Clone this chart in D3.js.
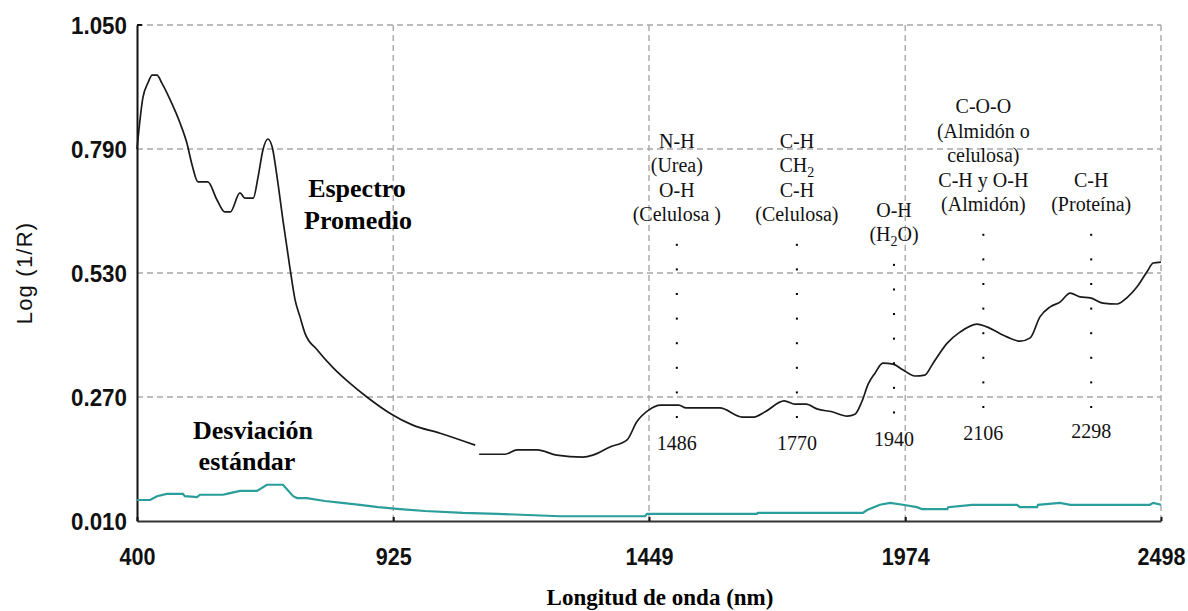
<!DOCTYPE html>
<html>
<head>
<meta charset="utf-8">
<script src="https://cdn.jsdelivr.net/npm/d3@7"></script>
<style>
  html, body { margin: 0; padding: 0; background: #fff; }
  svg { display: block; }
  .tick-label { font-family: "Liberation Sans", Arial, sans-serif; font-weight: bold; font-size: 23px; fill: #111; }
  .note { font-family: "Liberation Serif", "Times New Roman", serif; font-size: 20px; fill: #111; }
  .big { font-family: "Liberation Serif", "Times New Roman", serif; font-size: 26px; font-weight: bold; fill: #000; }
</style>
</head>
<body>
<svg id="chart" width="1188" height="611"></svg>
<script>
'use strict';

// tick values of both axes
var xTicks = [400, 925, 1449, 1974, 2498];
var yTicks = [0.010, 0.270, 0.530, 0.790, 1.050];

// mean spectrum (nm, log 1/R), null marks the break in the trace
var meanWave = [400, 412, 423, 431, 441, 451, 468, 488, 502, 513, 525, 545, 564, 580, 591, 611, 621, 638, 648, 658, 668, 677, 687, 699, 713, 724, 734, 744, 769, 802, 836, 871, 918, 965, 1021, 1093,
  1097,
  1101, 1154, 1179, 1220, 1260, 1314, 1334, 1369, 1404, 1424, 1449, 1472, 1510, 1525, 1594, 1640, 1664, 1687, 1726, 1748, 1771, 1793, 1824, 1855, 1871, 1885, 1898, 1912, 1928, 1949, 1969, 1994, 2014, 2031, 2060, 2086, 2121, 2141, 2182, 2209, 2230, 2250, 2271, 2291, 2312, 2332, 2353, 2379, 2408, 2428, 2449, 2469, 2482, 2498];
var meanValue = [0.790, 0.897, 0.930, 0.945, 0.945, 0.928, 0.893, 0.845, 0.803, 0.756, 0.721, 0.721, 0.683, 0.658, 0.658, 0.698, 0.687, 0.687, 0.731, 0.788, 0.811, 0.794, 0.731, 0.641, 0.543, 0.473, 0.438, 0.404, 0.369, 0.331, 0.299, 0.270, 0.236, 0.211, 0.194, 0.169,
  null,
  0.150, 0.150, 0.159, 0.159, 0.148, 0.144, 0.148, 0.165, 0.180, 0.218, 0.243, 0.253, 0.253, 0.247, 0.247, 0.228, 0.228, 0.239, 0.262, 0.255, 0.255, 0.245, 0.239, 0.230, 0.234, 0.260, 0.297, 0.320, 0.341, 0.339, 0.327, 0.314, 0.316, 0.341, 0.383, 0.406, 0.423, 0.417, 0.396, 0.387, 0.394, 0.438, 0.459, 0.469, 0.488, 0.480, 0.478, 0.467, 0.465, 0.478, 0.501, 0.532, 0.551, 0.553];

// standard deviation (nm, log 1/R)
var sdWave = [400, 427, 441, 461, 494, 498, 523, 529, 576, 584, 611, 646, 666, 699, 720, 728, 748, 785, 820, 857, 894, 939, 990, 1068, 1138, 1267, 1441, 1445, 1670, 1672, 1887, 1896, 1922, 1943, 1969, 1998, 2008, 2060, 2062, 2111, 2203, 2209, 2244, 2246, 2291, 2312, 2475, 2482, 2498];
var sdValue = [0.054, 0.054, 0.062, 0.067, 0.067, 0.062, 0.060, 0.065, 0.065, 0.067, 0.073, 0.073, 0.086, 0.086, 0.062, 0.058, 0.058, 0.052, 0.048, 0.044, 0.039, 0.035, 0.031, 0.027, 0.025, 0.020, 0.020, 0.025, 0.025, 0.027, 0.027, 0.033, 0.044, 0.048, 0.044, 0.039, 0.035, 0.035, 0.039, 0.044, 0.044, 0.039, 0.039, 0.044, 0.048, 0.044, 0.044, 0.048, 0.044];

// absorption bands: label, anchor wavelength of the note, text lines, value of last text line, dot count, value of number label
var bandLabels = ['1486', '1770', '1940', '2106', '2298'];
var bandAnchor = [1506, 1752, 1951, 2134, 2355];
var bandNotes = [
  ['N-H', '(Urea)', 'O-H', '(Celulosa )'],
  ['C-H', 'CH_2', 'C-H', '(Celulosa)'],
  ['O-H', '(H_2O)'],
  ['C-O-O', '(Almidón o', 'celulosa)', 'C-H y O-H', '(Almidón)'],
  ['C-H', '(Proteína)']
];
var bandNoteBottom = [0.652, 0.652, 0.610, 0.673, 0.673];
var bandDots = [8, 8, 7, 8, 8];
var bandNumberValue = [0.159, 0.159, 0.167, 0.180, 0.184];

var svg = d3.select('#chart');
var x = d3.scaleLinear().domain([400, 2498]).range([137, 1161]);
var y = d3.scaleLinear().domain([0.010, 1.050]).range([521, 25]);

// narrow bold look of the original tick font
function squeeze(sel) {
  sel.each(function () {
    var s = this.textContent;
    var n = s.replace(/[^0-9]/g, '').length;
    var p = s.length - n;
    d3.select(this).attr('textLength', 12 * n + 8 * p).attr('lengthAdjust', 'spacingAndGlyphs');
  });
}

// grid
var grid = svg.append('g').attr('stroke', '#a8a8a8').attr('stroke-width', 1.4).attr('stroke-dasharray', '6,4');
grid.selectAll('line.h').data(yTicks.slice(1)).enter().append('line')
  .attr('x1', x(400)).attr('x2', x(2498))
  .attr('y1', function (d) { return y(d); }).attr('y2', function (d) { return y(d); });
grid.selectAll('line.v').data(xTicks.slice(1)).enter().append('line')
  .attr('y1', y(1.050)).attr('y2', y(0.010))
  .attr('x1', function (d) { return x(d); }).attr('x2', function (d) { return x(d); });

// axes
var xAxis = d3.axisBottom(x).tickValues(xTicks).tickFormat(d3.format('d')).tickSizeInner(-4).tickSizeOuter(0);
var gx = svg.append('g').attr('transform', 'translate(0,' + y(0.010) + ')').call(xAxis);
gx.select('.domain').attr('stroke', '#333').attr('stroke-width', 2);
gx.selectAll('.tick line').attr('stroke', '#111').attr('stroke-width', 2);
gx.selectAll('.tick text').attr('class', 'tick-label').attr('y', 44).attr('dy', 0)
  .attr('font-family', null).attr('font-size', null).call(squeeze);

var yAxis = d3.axisLeft(y).tickValues(yTicks).tickFormat(d3.format('.3f')).tickSize(0).tickPadding(10);
var gy = svg.append('g').attr('transform', 'translate(' + x(400) + ',0)').call(yAxis);
gy.select('.domain').attr('stroke', '#111').attr('stroke-width', 2);
gy.selectAll('.tick text').attr('class', 'tick-label').attr('dy', '0.36em')
  .attr('font-family', null).attr('font-size', null).call(squeeze);
gy.append('line').attr('x1', 0).attr('x2', 5).attr('y1', y(1.050)).attr('y2', y(1.050)).attr('stroke', '#111').attr('stroke-width', 2);

// axis titles
svg.append('text')
  .attr('transform', 'translate(32,' + y(0.53) + ') rotate(-90)')
  .attr('text-anchor', 'middle')
  .attr('font-family', '"Liberation Sans", Arial, sans-serif')
  .attr('font-size', 22).attr('letter-spacing', 1.2).attr('fill', '#111')
  .text('Log (1/R)');
svg.append('text')
  .attr('x', 660).attr('y', 605)
  .attr('text-anchor', 'middle')
  .attr('font-family', '"Liberation Serif", "Times New Roman", serif')
  .attr('font-size', 23).attr('font-weight', 'bold').attr('fill', '#000')
  .text('Longitud de onda (nm)');

// series
var meanData = meanWave.map(function (w, i) { return { w: w, v: meanValue[i] }; });
var sdData = sdWave.map(function (w, i) { return { w: w, v: sdValue[i] }; });
var line = d3.line()
  .defined(function (d) { return d.v !== null; })
  .x(function (d) { return x(d.w); })
  .y(function (d) { return y(d.v); });

svg.append('path').datum(sdData).attr('d', line)
  .attr('fill', 'none').attr('stroke', '#2a9e9a').attr('stroke-width', 2.2);
svg.append('path').datum(meanData).attr('d', line.curve(d3.curveMonotoneX))
  .attr('fill', 'none').attr('stroke', '#1a1a1a').attr('stroke-width', 1.7);

// band notes
function addLine(sel, txt) {
  var parts = txt.split('_');
  if (parts.length === 1) { sel.text(txt); return; }
  sel.append('tspan').text(parts[0]);
  sel.append('tspan').attr('font-size', 14).attr('dy', 5).text(parts[1].charAt(0));
  sel.append('tspan').attr('dy', -5).text(parts[1].slice(1));
}

var lineStep = 24.6;
bandLabels.forEach(function (lab, i) {
  var cx = x(bandAnchor[i]);
  var bottom = y(bandNoteBottom[i]);
  var lines = bandNotes[i];
  var g = svg.append('g');
  lines.forEach(function (t, j) {
    var t0 = g.append('text').attr('class', 'note').attr('text-anchor', 'middle')
      .attr('x', cx).attr('y', bottom - (lines.length - 1 - j) * lineStep).attr('dy', '0.33em');
    addLine(t0, t);
  });
  d3.range(bandDots[i]).forEach(function (k) {
    g.append('rect').attr('x', cx - 1).attr('y', bottom + 30 + k * lineStep - 1)
      .attr('width', 2).attr('height', 2).attr('fill', '#000');
  });
  g.append('text').attr('class', 'note').attr('text-anchor', 'middle')
    .attr('x', cx).attr('y', y(bandNumberValue[i])).text(lab);
});

// series names
svg.append('text').attr('class', 'big').attr('text-anchor', 'middle').attr('x', 357).attr('y', 197).text('Espectro');
svg.append('text').attr('class', 'big').attr('text-anchor', 'middle').attr('x', 358).attr('y', 229).text('Promedio');
svg.append('text').attr('class', 'big').attr('text-anchor', 'middle').attr('x', 253).attr('y', 439).text('Desviación');
svg.append('text').attr('class', 'big').attr('text-anchor', 'middle').attr('x', 247).attr('y', 470).text('estándar');
</script>
</body>
</html>
